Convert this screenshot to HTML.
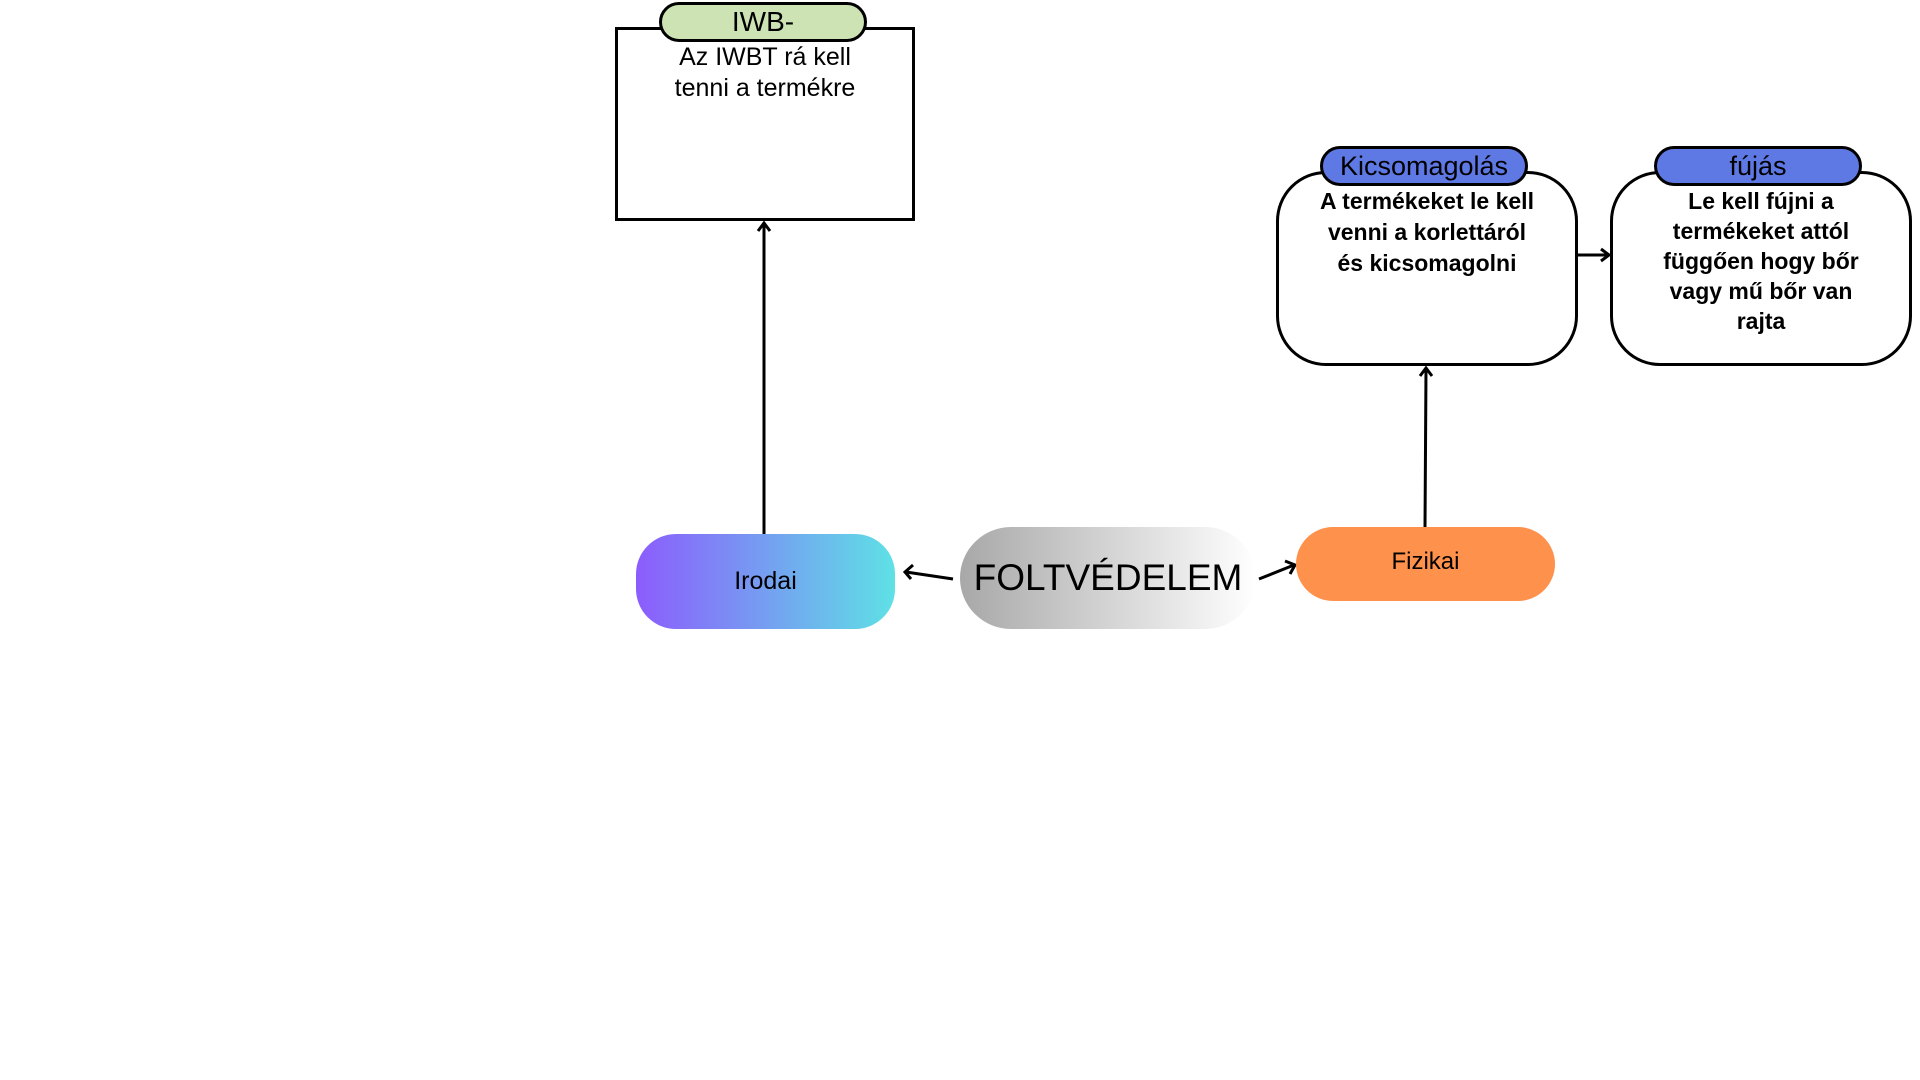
<!DOCTYPE html>
<html><head><meta charset="utf-8"><style>
body{margin:0;width:1920px;height:1080px;background:#fff;position:relative;overflow:hidden;font-family:"Liberation Sans",sans-serif;}
.a{position:absolute;box-sizing:border-box;text-align:center;}
.t{position:absolute;text-align:center;color:#000;}
</style></head><body>
<svg width="1920" height="1080" style="position:absolute;left:0;top:0" fill="none" stroke="#000" stroke-width="3">
<line x1="764" y1="534" x2="764" y2="224"/><polyline points="758,231 764,223 770,231"/>
<line x1="1425" y1="527" x2="1426" y2="369"/><polyline points="1420,376 1426,368 1432,376"/>
<line x1="1578" y1="255" x2="1608" y2="255"/><polyline points="1601,249 1609,255 1601,261"/>
<line x1="953" y1="579" x2="906" y2="572"/><polyline points="913,565 905,572 911,579"/>
<line x1="1259" y1="579" x2="1294" y2="565"/><polyline points="1285,561 1295,565 1290,574"/>
</svg>
<div class="a" style="left:615px;top:27px;width:300px;height:194px;border:3px solid #000;"></div>
<div class="a" style="left:659px;top:2px;width:208px;height:40px;border:3px solid #000;border-radius:20px;background:#cde3b4;font-size:28px;line-height:34px;">IWB-</div>
<div class="t" style="left:615px;top:42px;width:300px;font-size:25px;line-height:31px;">Az IWBT rá kell<br>tenni a termékre</div>

<div class="a" style="left:1276px;top:171px;width:302px;height:195px;border:3px solid #000;border-radius:50px;background:#fff;"></div>
<div class="a" style="left:1320px;top:146px;width:208px;height:40px;border:3px solid #000;border-radius:20px;background:#5f79e4;font-size:27px;line-height:34px;">Kicsomagolás</div>
<div class="t" style="left:1276px;top:186px;width:302px;font-size:23px;line-height:31px;font-weight:bold;">A termékeket le kell<br>venni a korlettáról<br>és kicsomagolni</div>

<div class="a" style="left:1610px;top:171px;width:302px;height:195px;border:3px solid #000;border-radius:50px;background:#fff;"></div>
<div class="a" style="left:1654px;top:146px;width:208px;height:40px;border:3px solid #000;border-radius:20px;background:#5f79e4;font-size:27px;line-height:34px;">fújás</div>
<div class="t" style="left:1610px;top:186px;width:302px;font-size:23px;line-height:30px;font-weight:bold;">Le kell fújni a<br>termékeket attól<br>függően hogy bőr<br>vagy mű bőr van<br>rajta</div>

<div class="a" style="left:636px;top:534px;width:259px;height:95px;border-radius:40px;background:linear-gradient(90deg,#8c5cfd,#5ee1e5);font-size:25px;line-height:95px;">Irodai</div>
<div class="a" style="left:960px;top:527px;width:296px;height:102px;border-radius:51px;background:linear-gradient(90deg,#a8a8a8,#fff);font-size:37px;line-height:102px;">FOLTVÉDELEM</div>
<div class="a" style="left:1296px;top:527px;width:259px;height:74px;border-radius:37px;background:#fe914b;font-size:24px;line-height:70px;">Fizikai</div>
</body></html>
